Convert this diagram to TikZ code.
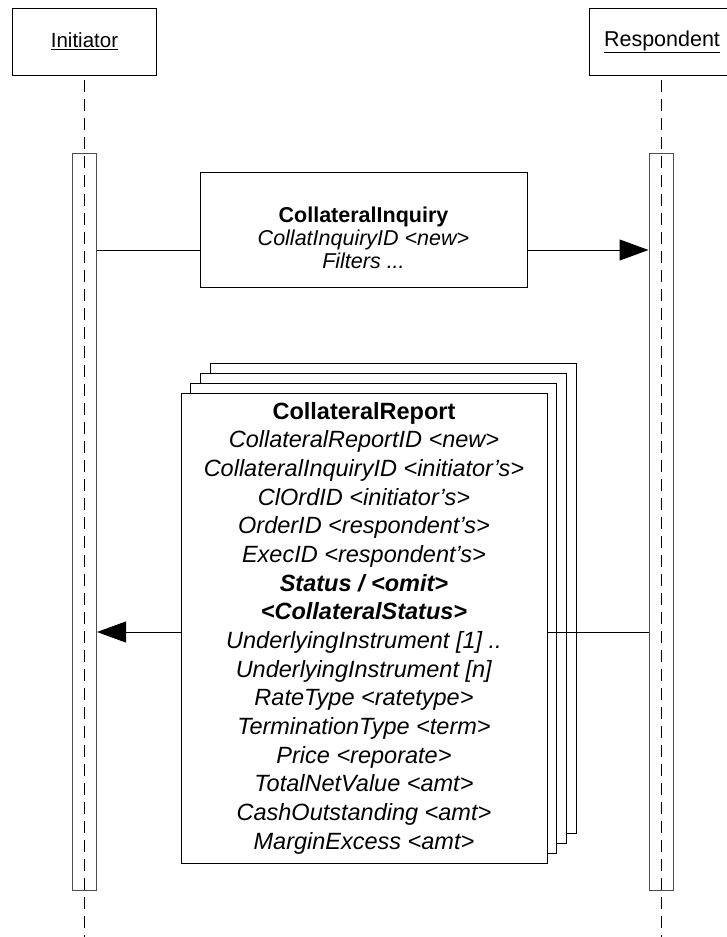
\documentclass[tikz,border=0pt]{standalone}
\usepackage{fontspec}
\setmainfont{Liberation Sans}
\usetikzlibrary{arrows.meta}

\begin{document}
\begin{tikzpicture}
    [
        x=1pt,y=-1pt,
        every node/.style={font=\fontsize{20.5}{23}\selectfont},
        header/.style={draw,line width=1pt,minimum width=144,minimum height=67},
        actbar/.style={draw=black!70,line width=1pt,fill=white,
            minimum width=24,minimum height=737,inner sep=0},
        msgbox/.style={draw,line width=1pt,fill=white,inner sep=0},
        reportbox/.style={msgbox,minimum width=366,minimum height=470},
        lifeline/.style={line width=1pt,dash pattern=on 12pt off 7pt},
        msgline/.style={line width=1pt},
        msgtip/.style={msgline,-{Triangle[length=29pt,width=21pt]}},
    ]
    \useasboundingbox (0,0) rectangle (726,937);
    % The participants
    \node[header] (init) at (84.5,41.5) {\underline{Initiator}};
    \node[header,minimum width=146,font=\fontsize{21.5}{23}\selectfont] (resp) at (662,41.5) {\underline{Respondent}};
    \coordinate (initstart) at (84.5,80);
    \coordinate (initend) at (84.5,937);
    \coordinate (respstart) at (661.5,80);
    \coordinate (respend) at (661.5,937);
    % The activation bars, the lifelines run over them
    \node[actbar] (initbar) at (84.5,521.5) {};
    \node[actbar] (respbar) at (661,521.5) {};
    \draw[lifeline] (initstart) -- (initend);
    \draw[lifeline] (respstart) -- (respend);
    % The inquiry
    \node[msgbox,minimum width=327,minimum height=115] (inq) at (363.5,229.5) {};
    \node[align=center,font=\fontsize{21.5}{23}\selectfont] (inqtext) at ([yshift=-8.5pt]inq.center)
    {\textbf{CollateralInquiry}\\
     \textit{CollatInquiryID <new>}\\
     \textit{Filters ...}};
    \coordinate (inqlevel) at (0,250);
    \draw[msgline] (initbar.east |- inqlevel) -- (inq.west |- inqlevel);
    \draw[msgtip] (inq.east |- inqlevel) -- (respbar.west |- inqlevel);
    % The reports, stacked
    \foreach \k in {3,2,1}
    \node[reportbox] (rep\k) at (364+9.7*\k,628-9.7*\k) {};
    \node[reportbox,align=center,font=\fontsize{23.5}{28.67}\selectfont] (rep) at (364,628)
    {\textbf{CollateralReport}\\
     \textit{CollateralReportID <new>}\\
     \textit{CollateralInquiryID <initiator’s>}\\
     \textit{ClOrdID <initiator’s>}\\
     \textit{OrderID <respondent’s>}\\
     \textit{ExecID <respondent’s>}\\
     \textbf{\textit{Status / <omit>}}\\
     \textbf{\textit{<CollateralStatus>}}\\
     \textit{UnderlyingInstrument [1] ..}\\
     \textit{UnderlyingInstrument [n]}\\
     \textit{RateType <ratetype>}\\
     \textit{TerminationType <term>}\\
     \textit{Price <reporate>}\\
     \textit{TotalNetValue <amt>}\\
     \textit{CashOutstanding <amt>}\\
     \textit{MarginExcess <amt>}};
    \coordinate (replevel) at (0,632);
    \draw[msgline] (respbar.west |- replevel) -- (rep.east |- replevel);
    \draw[msgtip] (rep.west |- replevel) -- (initbar.east |- replevel);
\end{tikzpicture}
\end{document}
